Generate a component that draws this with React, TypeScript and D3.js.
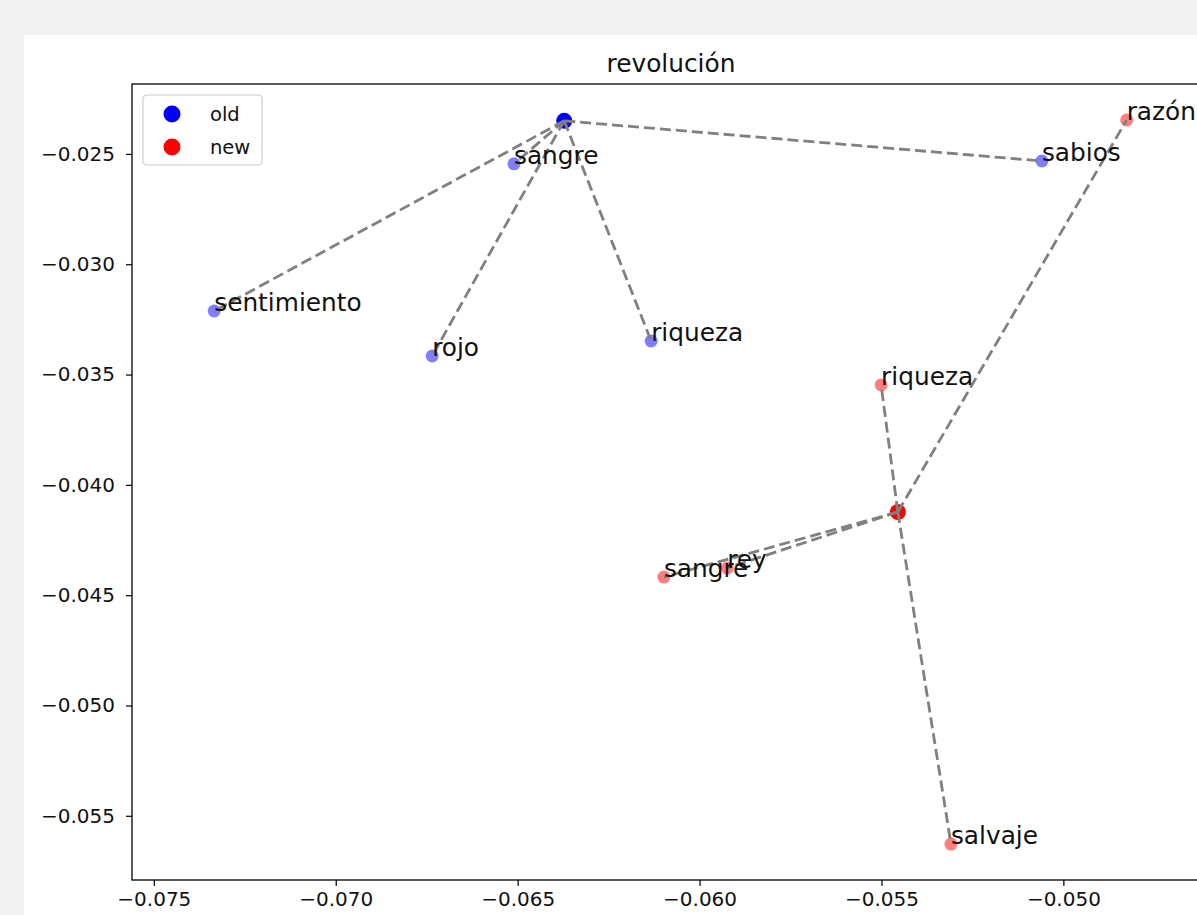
import React, { useRef, useEffect } from 'react';
import * as d3 from 'd3';

// word embedding neighbours for "revolución"
const centerLabels = ['old', 'new'];
const centerX = [-0.06372, -0.05455];
const centerY = [-0.0235, -0.04123];

const oldWords = ['sangre', 'sentimiento', 'rojo', 'riqueza', 'sabios'];
const oldX = [-0.0651, -0.07334, -0.06735, -0.06133, -0.05059];
const oldY = [-0.02545, -0.03212, -0.03416, -0.03348, -0.02532];

const newWords = ['riqueza', 'razón', 'sangre', 'rey', 'salvaje'];
const newX = [-0.05501, -0.04826, -0.06098, -0.05924, -0.05309];
const newY = [-0.03547, -0.02346, -0.04418, -0.04377, -0.05628];

const xTicks = [-0.075, -0.07, -0.065, -0.06, -0.055, -0.05];
const yTicks = [-0.025, -0.03, -0.035, -0.04, -0.045, -0.05, -0.055];

const App = () => {
  const svgRef = useRef(null);

  useEffect(() => {
    d3.select(svgRef.current).selectAll('*').remove();

    const width = 1197;
    const height = 915;
    const font = 'DejaVu Sans, sans-serif';

    const svg = d3
      .select(svgRef.current)
      .attr('width', width)
      .attr('height', height);

    // page + figure background
    svg.append('rect').attr('width', width).attr('height', height).attr('fill', '#f2f2f2');
    svg.append('rect').attr('x', 24).attr('y', 35).attr('width', width).attr('height', height).attr('fill', '#ffffff');

    const plot = { left: 132, right: 1210, top: 84, bottom: 880 };

    const xScale = d3.scaleLinear().domain([-0.0756, -0.04597]).range([plot.left, plot.right]);
    const yScale = d3.scaleLinear().domain([-0.02183, -0.05791]).range([plot.top, plot.bottom]);

    const fmt = (d) => d3.format('.3f')(d).replace('-', '\u2212');

    // x axis
    const xAxis = svg
      .append('g')
      .attr('transform', `translate(0, ${plot.bottom})`)
      .call(d3.axisBottom(xScale).tickValues(xTicks).tickFormat(fmt).tickSize(6).tickSizeOuter(0).tickPadding(6));
    xAxis.select('.domain').remove();
    xAxis.selectAll('line').attr('stroke', '#000').attr('stroke-width', 1.2);
    xAxis.selectAll('text').attr('fill', '#111').style('font-family', font).style('font-size', '20px');

    // y axis
    const yAxis = svg
      .append('g')
      .attr('transform', `translate(${plot.left}, 0)`)
      .call(d3.axisLeft(yScale).tickValues(yTicks).tickFormat(fmt).tickSize(6).tickSizeOuter(0).tickPadding(11));
    yAxis.select('.domain').remove();
    yAxis.selectAll('line').attr('stroke', '#000').attr('stroke-width', 1.2);
    yAxis.selectAll('text').attr('fill', '#111').style('font-family', font).style('font-size', '20px');

    const pts = [
      ...oldWords.map((w, i) => ({ word: w, x: oldX[i], y: oldY[i], group: 0 })),
      ...newWords.map((w, i) => ({ word: w, x: newX[i], y: newY[i], group: 1 })),
    ];
    const colors = ['#0000ff', '#ff0000'];

    // neighbour points
    svg
      .selectAll('.nb')
      .data(pts)
      .enter()
      .append('circle')
      .attr('cx', (d) => xScale(d.x))
      .attr('cy', (d) => yScale(d.y))
      .attr('r', 6.5)
      .attr('fill', (d) => colors[d.group])
      .attr('fill-opacity', 0.5);

    // center points
    centerLabels.forEach((_, i) => {
      svg
        .append('circle')
        .attr('cx', xScale(centerX[i]))
        .attr('cy', yScale(centerY[i]))
        .attr('r', 8)
        .attr('fill', colors[i]);
    });

    // dashed links
    pts.forEach((p) => {
      svg
        .append('line')
        .attr('x1', xScale(centerX[p.group]))
        .attr('y1', yScale(centerY[p.group]))
        .attr('x2', xScale(p.x))
        .attr('y2', yScale(p.y))
        .attr('stroke', '#808080')
        .attr('stroke-width', 2.8)
        .attr('stroke-dasharray', '11,5');
    });

    // labels
    svg
      .selectAll('.lbl')
      .data(pts)
      .enter()
      .append('text')
      .attr('x', (d) => xScale(d.x))
      .attr('y', (d) => yScale(d.y))
      .text((d) => d.word)
      .attr('fill', '#111')
      .style('font-family', font)
      .style('font-size', '24.8px');

    // frame
    svg
      .append('rect')
      .attr('x', plot.left)
      .attr('y', plot.top)
      .attr('width', plot.right - plot.left)
      .attr('height', plot.bottom - plot.top)
      .attr('fill', 'none')
      .attr('stroke', '#000')
      .attr('stroke-width', 1.3);

    // title
    svg
      .append('text')
      .attr('x', (plot.left + plot.right) / 2)
      .attr('y', 72)
      .attr('text-anchor', 'middle')
      .text('revolución')
      .attr('fill', '#111')
      .style('font-family', font)
      .style('font-size', '24.8px');

    // legend
    const legend = svg.append('g').attr('transform', 'translate(143, 95)');
    legend
      .append('rect')
      .attr('width', 119)
      .attr('height', 70)
      .attr('rx', 4)
      .attr('fill', '#fff')
      .attr('fill-opacity', 0.8)
      .attr('stroke', '#cccccc')
      .attr('stroke-width', 1.2);

    centerLabels.forEach((label, i) => {
      legend
        .append('circle')
        .attr('cx', 29)
        .attr('cy', 19 + i * 33)
        .attr('r', 8.5)
        .attr('fill', colors[i]);
      legend
        .append('text')
        .attr('x', 67)
        .attr('y', 26 + i * 33)
        .text(label)
        .attr('fill', '#111')
        .style('font-family', font)
        .style('font-size', '19.5px');
    });
  }, []);

  return (
    <svg ref={svgRef} style={{ position: 'absolute', left: 0, top: 0, display: 'block' }} />
  );
};

export default App;
